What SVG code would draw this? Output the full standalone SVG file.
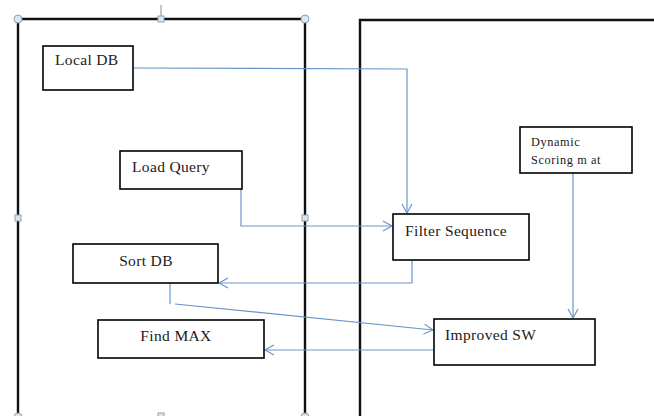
<svg xmlns="http://www.w3.org/2000/svg" width="654" height="416" viewBox="0 0 654 416">
<style>
.node rect{fill:#fff;stroke:#000;stroke-width:1.6}
text{font-family:'Liberation Serif','Times New Roman',serif;font-size:15.5px;fill:#1a1a1a;letter-spacing:0.35px}
.small{font-size:12.3px;letter-spacing:0.6px}
.conn{fill:none;stroke:#6a95cc;stroke-width:1.2}
.frame{fill:none;stroke:#111;stroke-width:2.4}
.handle{fill:#dbe7ee;stroke:#8aa4b4;stroke-width:1}
</style>
<defs>
<marker id="arr" markerWidth="12" markerHeight="12" refX="10" refY="6" orient="auto" markerUnits="userSpaceOnUse">
<path d="M1,1 L10,6 L1,11" fill="none" stroke="#6a95cc" stroke-width="1.2"/>
</marker>
</defs>
<rect width="654" height="416" fill="#fff"/>
<g id="frames">
<path class="frame" d="M18,19 H305 M18,19 V416 M305,19 V416"/>
<path class="frame" d="M360,416 V20 H654" stroke-width="3"/>
<line x1="161" y1="5" x2="161" y2="19" stroke="#8aa4b4" stroke-width="1.2"/>
<circle class="handle" cx="18" cy="19" r="4"/>
<circle class="handle" cx="305" cy="19" r="4"/>
<rect class="handle" x="158" y="16" width="6" height="6"/>
<rect class="handle" x="15" y="215" width="6" height="6"/>
<rect class="handle" x="302" y="215" width="6" height="6"/>
<circle class="handle" cx="18" cy="417" r="4"/>
<circle class="handle" cx="305" cy="417" r="4"/>
<rect class="handle" x="158" y="413" width="6" height="6"/>
</g>
<g id="connectors">
<polyline class="conn" points="133,68 407,69 407,213" marker-end="url(#arr)"/>
<polyline class="conn" points="241,172 241,226 392,226" marker-end="url(#arr)"/>
<polyline class="conn" points="412,260 412,283 219,283" marker-end="url(#arr)"/>
<polyline class="conn" points="170,283 170,304"/>
<line class="conn" x1="175" y1="304" x2="433" y2="330" marker-end="url(#arr)"/>
<line class="conn" x1="434" y1="350" x2="265" y2="350" marker-end="url(#arr)"/>
<line class="conn" x1="573" y1="173" x2="573" y2="318" marker-end="url(#arr)"/>
</g>
<g id="local-db" class="node">
<rect x="43" y="46" width="90" height="44"/>
<text x="55" y="65">Local DB</text>
</g>
<g id="load-query" class="node">
<rect x="120" y="151" width="122" height="38"/>
<text x="132" y="172">Load Query</text>
</g>
<g id="filter-sequence" class="node">
<rect x="393" y="214" width="136" height="46"/>
<text x="405" y="236">Filter Sequence</text>
</g>
<g id="sort-db" class="node">
<rect x="73" y="244" width="145" height="39"/>
<text x="146" y="266" text-anchor="middle">Sort DB</text>
</g>
<g id="find-max" class="node">
<rect x="98" y="320" width="166" height="38"/>
<text x="176" y="341" text-anchor="middle">Find MAX</text>
</g>
<g id="improved-sw" class="node">
<rect x="434" y="319" width="161" height="46"/>
<text x="445" y="340">Improved SW</text>
</g>
<g id="dynamic-scoring" class="node">
<rect x="520" y="127" width="112" height="46"/>
<text class="small" x="531" y="146">Dynamic</text>
<text class="small" x="531" y="164">Scoring m at</text>
</g>
</svg>
